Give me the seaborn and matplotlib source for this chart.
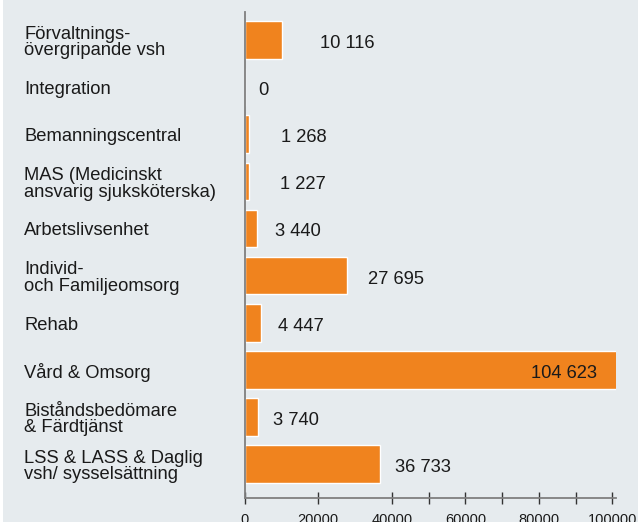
import matplotlib
matplotlib.use("Agg")
import matplotlib.pyplot as plt
import matplotlib.transforms as mtransforms
from matplotlib.patches import Rectangle
import seaborn as sns
import pandas as pd

# --- data ---
categories = [
    "Förvaltnings-\növergripande vsh",
    "Integration",
    "Bemanningscentral",
    "MAS (Medicinskt\nansvarig sjuksköterska)",
    "Arbetslivsenhet",
    "Individ-\noch Familjeomsorg",
    "Rehab",
    "Vård & Omsorg",
    "Biståndsbedömare\n& Färdtjänst",
    "LSS & LASS & Daglig\nvsh/ sysselsättning",
]
values = [10116, 0, 1268, 1227, 3440, 27695, 4447, 104623, 3740, 36733]
value_labels = ["10 116", "0", "1 268", "1 227", "3 440", "27 695",
                "4 447", "104 623", "3 740", "36 733"]
major_ticks = [0, 20000, 40000, 60000, 80000, 100000]
minor_ticks = [50000, 70000, 90000]

# label gap from bar end, in pixels (placed by hand in the original)
label_gap = [38, 14, 32, 31, 18, 21, 17, -19, 15, 15]

# --- style ---
BG = "#e6ebee"
ORANGE = "#f0831e"
AXIS = "#7f7f7f"
FONT = "Liberation Sans"

sns.set_theme(style="white")
plt.rcParams["font.family"] = [FONT, "DejaVu Sans"]

df = pd.DataFrame({"cat": categories, "val": values})

fig = plt.figure(figsize=(6.38, 5.22), dpi=100, facecolor=BG)
ax = fig.add_axes([244.7 / 638, 1 - 498 / 522, (615.7 - 244.7) / 638, (498 - 12) / 522])
ax.set_facecolor(BG)

# thin white strip at left edge
fig.patches.append(Rectangle((0, 0), 3 / 638, 1, transform=fig.transFigure,
                             facecolor="white", edgecolor="none", zorder=0))

sns.barplot(data=df, y="cat", x="val", orient="h", color=ORANGE,
            saturation=1, width=0.8, ax=ax)

ax.set_xlim(0, 100900)
ax.set_ylim(9.72, -0.595)

for s in ["top", "right"]:
    ax.spines[s].set_visible(False)
for s in ["left", "bottom"]:
    ax.spines[s].set_color(AXIS)
    ax.spines[s].set_linewidth(1.3)

ax.set_xticks(major_ticks)
ax.set_xticks(minor_ticks, minor=True)
ax.set_xticklabels([str(t) for t in major_ticks], fontsize=10.5, color="#1a1a1a")
ax.tick_params(axis="x", which="both", direction="inout", length=9,
               width=1, color="#333333", pad=6, bottom=True)
ax.set_yticks([])
ax.set_xlabel("")
ax.set_ylabel("")

# category labels, left aligned near figure edge
lab_tr = mtransforms.blended_transform_factory(fig.transFigure, ax.transData)
lab_tr = mtransforms.offset_copy(lab_tr, fig=fig, x=0, y=-2.5, units="dots")
for i, c in enumerate(categories):
    ax.text(24 / 638, i, c, transform=lab_tr, ha="left", va="center",
            fontsize=13.2, color="#1a1a1a", linespacing=0.95)

# value labels
for i, (v, t) in enumerate(zip(values, value_labels)):
    end = min(v, ax.get_xlim()[1])
    tr = mtransforms.offset_copy(ax.transData, fig=fig, x=label_gap[i], y=-3.5, units="dots")
    ax.text(end, i, t, transform=tr, ha="left" if label_gap[i] > 0 else "right",
            va="center", fontsize=13.2, color="#1a1a1a")

fig.savefig("out.png", dpi=100, facecolor=BG)
